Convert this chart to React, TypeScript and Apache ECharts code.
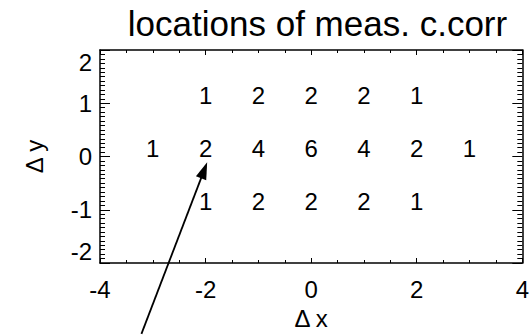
import React, { useEffect, useRef } from "react";
import * as echarts from "echarts";

// Measurement counts at each (Δx, Δy) offset, one row per Δy
const ROW_Y = [1, 0, -1];
const ROW_X = [
  [-2, -1, 0, 1, 2],
  [-3, -2, -1, 0, 1, 2, 3],
  [-2, -1, 0, 1, 2],
];
const ROW_COUNTS = [
  [1, 2, 2, 2, 1],
  [1, 2, 4, 6, 4, 2, 1],
  [1, 2, 2, 2, 1],
];

const X_RANGE = [-4, 4];
const Y_RANGE = [-2, 2];

// Pointer annotation, in data coordinates (tail lies below the frame)
const ARROW_TAIL = [-3.215, -3.33];
const ARROW_TIP = [-1.97, -0.11];

const FONT = '"Liberation Sans", Arial, Helvetica, sans-serif';

export default function App() {
  const ref = useRef<HTMLDivElement>(null);

  useEffect(() => {
    if (!ref.current) return;
    const chart = echarts.init(ref.current, undefined, { renderer: "svg" });

    const points: number[][] = [];
    ROW_Y.forEach((y, r) => {
      ROW_X[r].forEach((x, i) => points.push([x, y, ROW_COUNTS[r][i]]));
    });

    const axisLine = { show: true, onZero: false, lineStyle: { color: "#000", width: 1.5 } };
    const tickStyle = { color: "#000", width: 1 };

    chart.setOption({
      animation: false,
      backgroundColor: "#fff",
      title: {
        text: "locations of meas. c.corr",
        left: 312.5,
        top: 1,
        textAlign: "center",
        textStyle: { fontFamily: FONT, fontSize: 35, fontWeight: "normal", color: "#000" },
      },
      grid: { left: 100, right: 7, top: 50, bottom: 71, containLabel: false },
      xAxis: [
        {
          type: "value",
          position: "bottom",
          min: X_RANGE[0],
          max: X_RANGE[1],
          interval: 2,
          name: "Δ x",
          nameLocation: "middle",
          nameGap: 43,
          nameTextStyle: { fontFamily: FONT, fontSize: 24, color: "#000" },
          axisLine,
          axisTick: { show: true, inside: true, length: 5, lineStyle: tickStyle },
          minorTick: { show: true, splitNumber: 4, length: 3, lineStyle: tickStyle },
          axisLabel: { fontFamily: FONT, fontSize: 24, color: "#000", margin: 14 },
          splitLine: { show: false },
          minorSplitLine: { show: false },
        },
        {
          type: "value",
          position: "top",
          min: X_RANGE[0],
          max: X_RANGE[1],
          interval: 2,
          axisLine,
          axisTick: { show: true, inside: true, length: 5, lineStyle: tickStyle },
          minorTick: { show: true, splitNumber: 4, length: 3, lineStyle: tickStyle },
          axisLabel: { show: false },
          splitLine: { show: false },
          minorSplitLine: { show: false },
        },
      ],
      yAxis: [
        {
          type: "value",
          position: "left",
          min: Y_RANGE[0],
          max: Y_RANGE[1],
          interval: 1,
          name: "Δ y",
          nameLocation: "middle",
          nameRotate: 90,
          nameGap: 54,
          nameTextStyle: { fontFamily: FONT, fontSize: 24, color: "#000" },
          axisLine,
          axisTick: { show: true, inside: true, length: 10, lineStyle: tickStyle },
          minorTick: { show: true, splitNumber: 12, length: 5, lineStyle: tickStyle },
          axisLabel: {
            fontFamily: FONT,
            fontSize: 24,
            color: "#000",
            margin: 8,
            verticalAlignMaxLabel: "top",
            verticalAlignMinLabel: "bottom",
          },
          splitLine: { show: false },
          minorSplitLine: { show: false },
        },
        {
          type: "value",
          position: "right",
          min: Y_RANGE[0],
          max: Y_RANGE[1],
          interval: 1,
          axisLine,
          axisTick: { show: true, inside: true, length: 10, lineStyle: tickStyle },
          minorTick: { show: true, splitNumber: 12, length: 5, lineStyle: tickStyle },
          axisLabel: { show: false },
          splitLine: { show: false },
          minorSplitLine: { show: false },
        },
      ],
      series: [
        {
          type: "scatter",
          xAxisIndex: 0,
          yAxisIndex: 0,
          symbol: "circle",
          symbolSize: 0,
          itemStyle: { color: "#000", opacity: 1 },
          data: points,
          label: {
            show: true,
            position: "top",
            distance: 0,
            offset: [0, 4],
            formatter: (p: any) => String(p.value[2]),
            fontFamily: FONT,
            fontSize: 24,
            color: "#000",
            opacity: 1,
            textBorderWidth: 0,
          },
          emphasis: { disabled: true },
        },
      ],
    });

    // Arrow placed through the grid's own coordinate system
    const tail = chart.convertToPixel({ gridIndex: 0 }, ARROW_TAIL) as number[];
    const tip = chart.convertToPixel({ gridIndex: 0 }, ARROW_TIP) as number[];
    const dx = tip[0] - tail[0];
    const dy = tip[1] - tail[1];
    const len = Math.hypot(dx, dy);
    const ux = dx / len;
    const uy = dy / len;
    const headLen = 17;
    const halfW = 5.5;
    const bx = tip[0] - ux * headLen;
    const by = tip[1] - uy * headLen;
    const px = -uy;
    const py = ux;

    chart.setOption({
      graphic: [
        {
          type: "line",
          shape: { x1: tail[0], y1: tail[1], x2: bx + ux * 2, y2: by + uy * 2 },
          style: { stroke: "#000", lineWidth: 1.8 },
          z: 10,
        },
        {
          type: "polygon",
          shape: {
            points: [
              [tip[0], tip[1]],
              [bx + px * halfW, by + py * halfW],
              [bx - px * halfW, by - py * halfW],
            ],
          },
          style: { fill: "#000" },
          z: 10,
        },
      ],
    });

    return () => chart.dispose();
  }, []);

  return (
    <div
      ref={ref}
      style={{ position: "fixed", left: 0, top: 0, width: 532, height: 335 }}
    />
  );
}
